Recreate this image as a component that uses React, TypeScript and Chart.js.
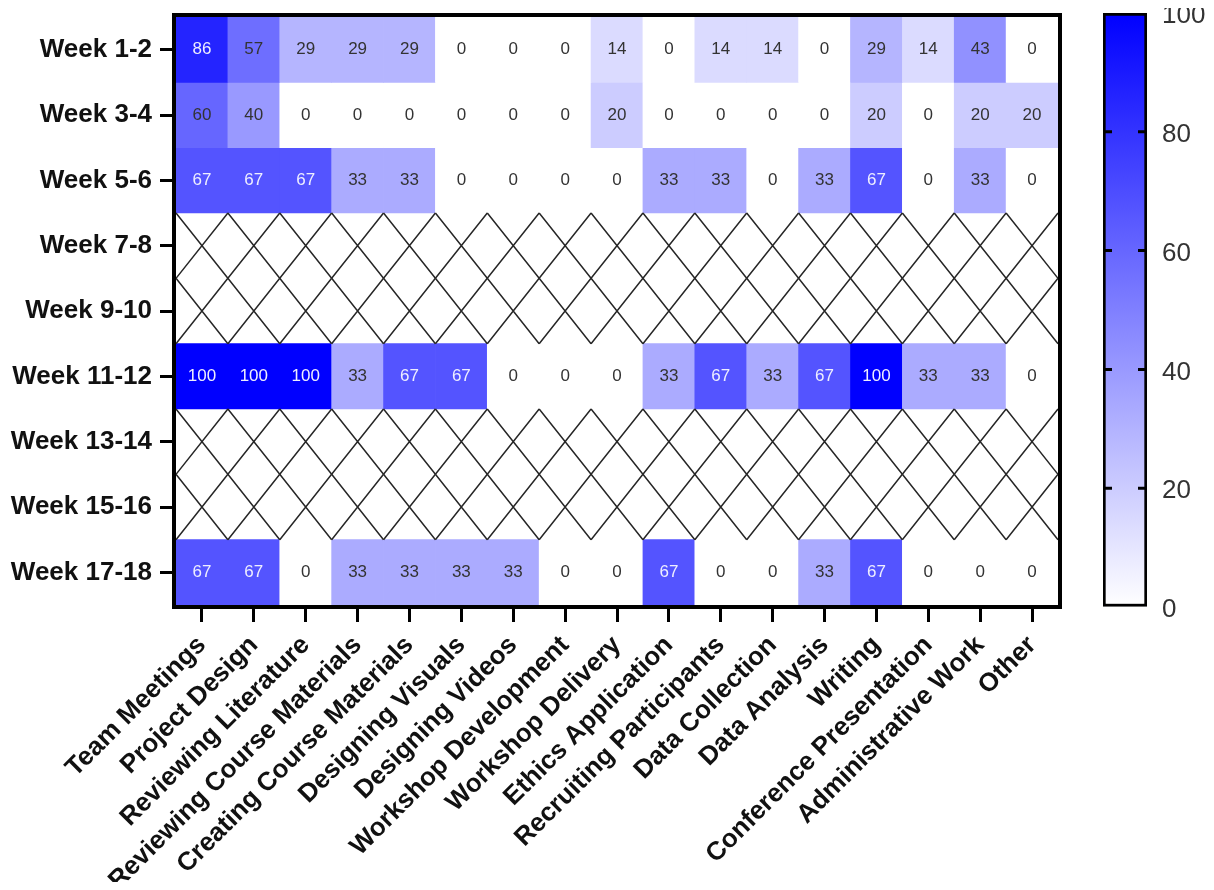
import React, { useEffect, useRef } from "react";
import { Chart, registerables } from "chart.js";

Chart.register(...registerables);

const activities = [
  "Team Meetings",
  "Project Design",
  "Reviewing Literature",
  "Reviewing Course Materials",
  "Creating Course Materials",
  "Designing Visuals",
  "Designing Videos",
  "Workshop Development",
  "Workshop Delivery",
  "Ethics Application",
  "Recruiting Participants",
  "Data Collection",
  "Data Analysis",
  "Writing",
  "Conference Presentation",
  "Administrative Work",
  "Other",
];

const weeks = [
  "Week 1-2",
  "Week 3-4",
  "Week 5-6",
  "Week 7-8",
  "Week 9-10",
  "Week 11-12",
  "Week 13-14",
  "Week 15-16",
  "Week 17-18",
];

const week1_2 = [86, 57, 29, 29, 29, 0, 0, 0, 14, 0, 14, 14, 0, 29, 14, 43, 0];
const week3_4 = [60, 40, 0, 0, 0, 0, 0, 0, 20, 0, 0, 0, 0, 20, 0, 20, 20];
const week5_6 = [67, 67, 67, 33, 33, 0, 0, 0, 0, 33, 33, 0, 33, 67, 0, 33, 0];
const week7_8: number[] | null = null;
const week9_10: number[] | null = null;
const week11_12 = [100, 100, 100, 33, 67, 67, 0, 0, 0, 33, 67, 33, 67, 100, 33, 33, 0];
const week13_14: number[] | null = null;
const week15_16: number[] | null = null;
const week17_18 = [67, 67, 0, 33, 33, 33, 33, 0, 0, 67, 0, 0, 33, 67, 0, 0, 0];

const weekValues: (number[] | null)[] = [
  week1_2,
  week3_4,
  week5_6,
  week7_8,
  week9_10,
  week11_12,
  week13_14,
  week15_16,
  week17_18,
];

const colorbarMin = 0;
const colorbarMax = 100;
const colorbarStep = 20;

function cellColor(v: number) {
  const t = Math.max(0, Math.min(1, (v - colorbarMin) / (colorbarMax - colorbarMin)));
  const c = Math.round(255 * (1 - t));
  return `rgb(${c},${c},255)`;
}

const FONT = "'Liberation Sans', Arial, sans-serif";

export default function App() {
  const mainRef = useRef<HTMLCanvasElement | null>(null);
  const cbRef = useRef<HTMLCanvasElement | null>(null);

  useEffect(() => {
    if (!mainRef.current || !cbRef.current) return;

    const datasets = weekValues.map((vals, r) => ({
      label: weeks[r],
      data: activities.map(() => (vals ? [r - 0.5, r + 0.5] : null)),
      backgroundColor: activities.map((_, c) => (vals ? cellColor(vals[c]) : "rgba(0,0,0,0)")),
      borderWidth: 0,
      grouped: false,
      barPercentage: 1,
      categoryPercentage: 1,
    }));

    const heatPlugin = {
      id: "heatExtras",
      afterDatasetsDraw(chart: any) {
        const ctx = chart.ctx as CanvasRenderingContext2D;
        const xs = chart.scales.x;
        const ys = chart.scales.y;
        const area = chart.chartArea;
        ctx.save();
        ctx.beginPath();
        ctx.rect(area.left, area.top, area.right - area.left, area.bottom - area.top);
        ctx.clip();
        ctx.strokeStyle = "#262626";
        ctx.lineWidth = 1.5;
        weekValues.forEach((vals, r) => {
          if (vals) return;
          const y0 = ys.getPixelForValue(r - 0.5);
          const y1 = ys.getPixelForValue(r + 0.5);
          activities.forEach((_, c) => {
            const x0 = xs.getPixelForValue(c - 0.5);
            const x1 = xs.getPixelForValue(c + 0.5);
            ctx.beginPath();
            ctx.moveTo(x0, y0);
            ctx.lineTo(x1, y1);
            ctx.moveTo(x1, y0);
            ctx.lineTo(x0, y1);
            ctx.stroke();
          });
        });
        ctx.font = `17px ${FONT}`;
        ctx.textAlign = "center";
        ctx.textBaseline = "middle";
        weekValues.forEach((vals, r) => {
          if (!vals) return;
          const y = ys.getPixelForValue(r);
          vals.forEach((v, c) => {
            const x = xs.getPixelForValue(c);
            ctx.fillStyle = v >= 65 ? "#eeeeff" : "#333333";
            ctx.fillText(String(v), x, y);
          });
        });
        ctx.restore();
        ctx.save();
        ctx.strokeStyle = "#000";
        ctx.lineWidth = 4;
        ctx.strokeRect(area.left - 2, area.top - 2, area.right - area.left + 4, area.bottom - area.top + 4);
        ctx.restore();
      },
    };

    const main = new Chart(mainRef.current, {
      type: "bar",
      data: { labels: activities, datasets: datasets as any },
      options: {
        responsive: false,
        animation: false,
        layout: { padding: { top: 9, left: 0, right: 20, bottom: 0 } },
        plugins: { legend: { display: false }, tooltip: { enabled: false } },
        scales: {
          x: {
            type: "category",
            offset: true,
            grid: { offset: false, drawOnChartArea: false, drawTicks: true, tickLength: 17, tickWidth: 3, tickColor: "#000" },
            border: { display: false },
            ticks: {
              autoSkip: false,
              maxRotation: 45,
              minRotation: 45,
              padding: 8,
              color: "#111",
              font: { family: FONT, size: 26, weight: "bold" },
            },
            afterFit: (s: any) => {
              s.height = 285;
              s.paddingLeft = 0;
              s.paddingRight = 0;
            },
          },
          y: {
            type: "linear",
            reverse: true,
            min: -0.5,
            max: weeks.length - 0.5,
            afterBuildTicks: (s: any) => {
              s.ticks = weeks.map((_, i) => ({ value: i }));
            },
            grid: { drawOnChartArea: false, drawTicks: true, tickLength: 16, tickWidth: 3, tickColor: "#000" },
            border: { display: false },
            ticks: {
              padding: 8,
              color: "#111",
              font: { family: FONT, size: 26, weight: "bold" },
              callback: (v: any) => weeks[Math.round(Number(v))] ?? "",
            },
            afterFit: (s: any) => {
              s.width = 168;
              s.paddingTop = 0;
              s.paddingBottom = 0;
            },
          },
        },
      },
      plugins: [heatPlugin],
    });

    const cbPlugin = {
      id: "cbTicks",
      afterDatasetsDraw(chart: any) {
        const ctx = chart.ctx as CanvasRenderingContext2D;
        const ys = chart.scales.y;
        const area = chart.chartArea;
        ctx.save();
        ctx.strokeStyle = "#000";
        ctx.lineWidth = 3;
        for (let v = colorbarMin + colorbarStep; v < colorbarMax; v += colorbarStep) {
          const y = ys.getPixelForValue(v);
          ctx.beginPath();
          ctx.moveTo(area.left, y);
          ctx.lineTo(area.left + 9, y);
          ctx.moveTo(area.right - 9, y);
          ctx.lineTo(area.right, y);
          ctx.stroke();
        }
        ctx.restore();
      },
    };

    const cb = new Chart(cbRef.current, {
      type: "bar",
      data: {
        labels: ["scale"],
        datasets: [
          {
            data: [[colorbarMin, colorbarMax]] as any,
            backgroundColor: (c: any) => {
              const chart = c.chart;
              const ys = chart.scales?.y;
              if (!chart.chartArea || !ys) return cellColor(50);
              const g = chart.ctx.createLinearGradient(0, ys.getPixelForValue(colorbarMin), 0, ys.getPixelForValue(colorbarMax));
              g.addColorStop(0, cellColor(colorbarMin));
              g.addColorStop(1, cellColor(colorbarMax));
              return g;
            },
            borderColor: "#000",
            borderWidth: 3,
            borderSkipped: false,
            barPercentage: 1,
            categoryPercentage: 1,
          } as any,
        ],
      },
      options: {
        responsive: false,
        animation: false,
        layout: { padding: { top: 13, bottom: 275, left: 13, right: 0 } },
        plugins: { legend: { display: false }, tooltip: { enabled: false } },
        scales: {
          x: { display: false },
          y: {
            position: "right",
            min: colorbarMin,
            max: colorbarMax,
            ticks: { stepSize: colorbarStep, padding: 15, labelOffset: 3, color: "#333", font: { family: FONT, size: 26 } },
            grid: { drawOnChartArea: false, drawTicks: false },
            border: { display: false },
            afterFit: (s: any) => {
              s.width = 63;
              s.paddingTop = 0;
              s.paddingBottom = 0;
            },
          },
        },
      },
      plugins: [cbPlugin],
    });

    return () => {
      main.destroy();
      cb.destroy();
    };
  }, []);

  return (
    <div style={{ position: "relative", width: 1198, height: 874 }}>
      <canvas
        ref={mainRef}
        width={1070}
        height={882}
        style={{ position: "absolute", left: 0, top: 0, display: "block" }}
      />
      <canvas
        ref={cbRef}
        width={120}
        height={882}
        style={{ position: "absolute", left: 1082, top: -8, display: "block" }}
      />
    </div>
  );
}
